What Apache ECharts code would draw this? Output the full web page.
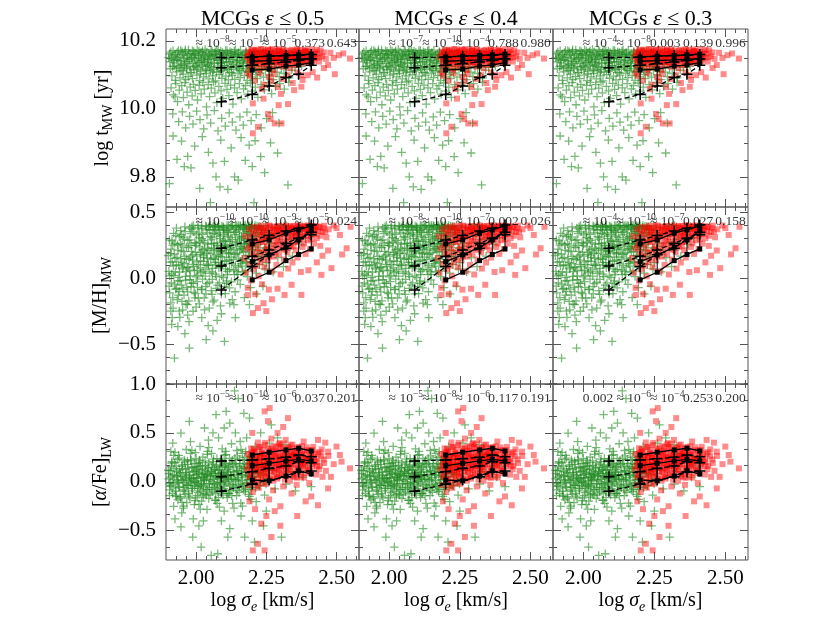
<!DOCTYPE html>
<html lang="en">
<head>
<meta charset="UTF-8">
<title>MCGs: age, metallicity and alpha/Fe vs sigma</title>
<script src="https://cdn.jsdelivr.net/npm/echarts@6/dist/echarts.min.js"></script>
<style>
html, body { margin: 0; padding: 0; background: #fff; }
#main { width: 830px; height: 623px; }
</style>
</head>
<body>
<div id="main"></div>
<script>
// column titles: ellipticity cut
var epsCuts = ['0.5', '0.4', '0.3'];

// x axis (log sigma_e)
var xMin = 53 / 28, xMax = 2.58;
var xMajor = [2.00, 2.25, 2.50];

// y axes per row
var ageRange = [9.711, 10.235], ageMajor = [9.8, 10.0, 10.2], ageMinorStep = 0.05;
var mhRange = [-0.803, 0.54], mhMajor = [-0.5, 0.0, 0.5], mhMinorStep = 0.1;
var afeRange = [-0.8, 1.0], afeMajor = [-0.5, 0.0, 0.5, 1.0], afeMinorStep = 1 / 6;

// x positions where the p-value texts start
var annotX = [1.996, 2.115, 2.233, 2.349, 2.463];

// p-values ('e-8' means about 10^-8), one list per column
var agePvals = [['e-8', 'e-10', 'e-5', '0.373', '0.643'], ['e-7', 'e-10', 'e-4', '0.788', '0.980'], ['e-4', 'e-8', '0.003', '0.139', '0.996']];
var mhPvals = [['e-10', 'e-10', 'e-9', 'e-5', '0.024'], ['e-8', 'e-10', 'e-7', '0.002', '0.026'], ['e-4', 'e-10', 'e-7', '0.027', '0.158']];
var afePvals = [['e-5', 'e-10', 'e-6', '0.037', '0.201'], ['e-5', 'e-8', 'e-6', '0.117', '0.191'], ['0.002', 'e-6', 'e-4', '0.253', '0.200']];

// binned percentiles (16th, 50th, 84th): control sample (dashed) and MCGs (solid)
var binGreen = [2.09, 2.20, 2.26, 2.32, 2.365, 2.41];
var binRed = [2.20, 2.26, 2.32, 2.365, 2.41];

var ageGreenLo = [10.021, 10.042, 10.067, 10.092, 10.102, 10.128];
var ageGreenMid = [10.121, 10.128, 10.133, 10.138, 10.143, 10.147];
var ageGreenHi = [10.151, 10.152, 10.155, 10.157, 10.158, 10.160];
var ageRedLo = [10.114, 10.117, 10.126, 10.129, 10.136];
var ageRedMid = [10.140, 10.142, 10.144, 10.146, 10.148];
var ageRedHi = [10.153, 10.155, 10.157, 10.159, 10.161];

var mhGreenLo = [-0.089, 0.088, 0.177, 0.227, 0.300, 0.330];
var mhGreenMid = [0.093, 0.164, 0.214, 0.265, 0.303, 0.348];
var mhGreenHi = [0.227, 0.290, 0.323, 0.358, 0.379, 0.404];
var mhRedLo = [-0.013, 0.045, 0.133, 0.180, 0.222];
var mhRedMid = [0.126, 0.177, 0.235, 0.290, 0.360];
var mhRedHi = [0.260, 0.290, 0.341, 0.366, 0.396];

var afeGreenLo = [-0.096, -0.024, 0.017, 0.050, 0.100, 0.110];
var afeGreenMid = [0.052, 0.103, 0.137, 0.161, 0.205, 0.195];
var afeGreenHi = [0.213, 0.223, 0.236, 0.250, 0.274, 0.257];
var afeRedLo = [0.017, 0.010, 0.058, 0.113, 0.079];
var afeRedMid = [0.165, 0.189, 0.213, 0.230, 0.213];
var afeRedHi = [0.274, 0.302, 0.326, 0.343, 0.315];

// individual galaxies: control sample (green) and MCGs (red)
var ageGreen = [
[1.905,10.162],[1.912,10.148],[1.918,10.171],[1.921,10.135],[1.927,10.158],[1.933,10.166],[1.936,10.142],[1.941,10.153],[1.945,10.172],[1.948,10.131],
[1.952,10.161],[1.957,10.147],[1.961,10.168],[1.964,10.138],[1.969,10.156],[1.973,10.173],[1.976,10.144],[1.981,10.163],[1.985,10.151],[1.988,10.133],
[1.992,10.169],[1.996,10.157],[2.001,10.141],[2.004,10.174],[2.008,10.152],[2.012,10.136],[2.015,10.165],[2.019,10.148],[2.023,10.171],[2.026,10.159],
[2.031,10.139],[2.034,10.155],[2.038,10.167],[2.042,10.145],[2.045,10.132],[2.049,10.162],[2.053,10.173],[2.056,10.149],[2.061,10.157],[2.064,10.137],
[2.068,10.168],[2.071,10.153],[2.075,10.143],[2.079,10.171],[2.083,10.160],[2.086,10.134],[2.090,10.151],[2.094,10.166],[2.097,10.146],[2.101,10.158],
[2.105,10.172],[2.109,10.139],[2.112,10.163],[2.116,10.150],[2.121,10.168],[2.124,10.135],[2.128,10.156],[2.132,10.145],[2.136,10.170],[2.139,10.161],
[2.143,10.138],[2.147,10.152],[2.151,10.166],[2.155,10.143],[2.158,10.173],[2.162,10.157],[2.166,10.134],[2.171,10.162],[2.174,10.149],[2.178,10.169],
[2.183,10.141],[2.187,10.158],[2.191,10.172],[2.195,10.147],[2.200,10.163],[2.205,10.137],[2.209,10.155],[2.214,10.168],[2.219,10.144],[2.224,10.159],
[2.229,10.171],[2.235,10.151],[2.241,10.139],[2.246,10.165],[2.252,10.156],[2.258,10.146],[2.265,10.170],[2.271,10.160],[2.278,10.142],[2.285,10.167],
[2.292,10.153],[2.299,10.163],[2.307,10.148],[2.316,10.170],[2.325,10.158],[2.334,10.145],[2.345,10.166],[2.357,10.155],[2.371,10.162],[2.385,10.150],
[1.915,10.155],[1.930,10.145],[1.950,10.168],[1.967,10.150],[1.990,10.160],[2.010,10.170],[2.028,10.145],[2.047,10.155],[2.066,10.160],[2.088,10.170],
[2.108,10.148],[2.127,10.166],[2.145,10.160],[2.168,10.150],[2.190,10.160],[2.212,10.152],
[1.902,10.151],[1.907,10.138],[1.910,10.167],[1.916,10.124],[1.919,10.143],[1.924,10.160],[1.929,10.119],[1.934,10.151],[1.937,10.172],[1.943,10.127],
[1.946,10.141],[1.953,10.112],[1.956,10.158],[1.959,10.133],[1.962,10.174],[1.967,10.121],[1.971,10.139],[1.975,10.162],[1.979,10.106],[1.983,10.146],
[1.987,10.171],[1.991,10.124],[1.994,10.149],[1.998,10.163],[2.002,10.117],[2.006,10.135],[2.010,10.158],[2.014,10.103],[2.018,10.142],[2.021,10.166],
[2.025,10.129],[2.029,10.151],[2.032,10.175],[2.036,10.113],[2.040,10.137],[2.044,10.161],[2.048,10.124],[2.052,10.147],[2.057,10.169],[2.060,10.108],
[2.065,10.133],[2.070,10.158],[2.073,10.174],[2.078,10.121],[2.081,10.143],[2.085,10.163],[2.089,10.111],[2.093,10.136],[2.098,10.158],[2.102,10.127],
[2.107,10.149],[2.110,10.172],[2.114,10.116],[2.118,10.139],[2.122,10.162],[2.126,10.106],[2.131,10.131],[2.135,10.155],[2.140,10.174],[2.144,10.122],
[2.148,10.142],[2.152,10.161],[2.156,10.113],[2.160,10.136],[2.164,10.158],[2.169,10.128],[2.173,10.151],[2.177,10.166],[2.181,10.109],[2.185,10.138],
[2.189,10.153],[2.194,10.121],[2.198,10.143],[2.203,10.168],[2.207,10.132],[2.212,10.116],[2.217,10.161],[2.222,10.137],[2.227,10.152],[2.233,10.118],
[2.238,10.164],[2.244,10.131],[2.250,10.149],[2.256,10.125],[2.263,10.158],[2.270,10.111],[2.277,10.146],[2.286,10.131],[2.295,10.157],[2.305,10.136],
[1.908,10.118],[1.914,10.097],[1.922,10.126],[1.926,10.084],[1.931,10.109],[1.939,10.122],[1.943,10.091],[1.947,10.113],[1.954,10.102],[1.958,10.127],
[1.963,10.086],[1.966,10.118],[1.972,10.095],[1.978,10.124],[1.983,10.107],[1.987,10.089],[1.993,10.115],[1.998,10.128],[2.003,10.099],[2.007,10.121],
[2.013,10.083],[2.017,10.111],[2.022,10.125],[2.027,10.094],[2.033,10.117],[2.036,10.104],[2.041,10.128],[2.046,10.088],[2.051,10.112],[2.055,10.122],
[2.059,10.097],[2.063,10.116],[2.069,10.082],[2.073,10.108],[2.077,10.126],[2.082,10.101],[2.087,10.119],[2.092,10.090],[2.096,10.113],[2.100,10.127],
[2.106,10.096],[2.111,10.120],[2.115,10.085],[2.119,10.107],[2.125,10.124],[2.129,10.099],[2.134,10.116],[2.138,10.087],[2.144,10.128],[2.149,10.105],
[2.153,10.119],[2.157,10.092],[2.163,10.112],[2.167,10.126],[2.172,10.098],[2.177,10.118],[2.182,10.084],[2.186,10.109],[2.192,10.123],[2.197,10.094],
[2.203,10.115],[2.208,10.127],[2.213,10.101],[2.218,10.089],[2.223,10.118],[2.228,10.106],[2.234,10.125],[2.240,10.093],[2.247,10.113],[2.253,10.121],
[2.260,10.099],[2.267,10.117],[2.274,10.086],[2.281,10.124],[2.289,10.108],[2.296,10.095],[2.304,10.119],[2.313,10.104],[2.322,10.127],[2.331,10.091],
[2.341,10.114],[2.352,10.122],[2.364,10.102],[2.376,10.126],
[1.911,10.062],[1.919,10.041],[1.928,10.074],[1.934,10.021],[1.940,10.055],[1.949,10.068],[1.955,10.033],[1.960,10.077],[1.968,10.049],[1.974,10.012],
[1.979,10.064],[1.986,10.038],[1.991,10.072],[1.997,10.054],[2.005,10.026],[2.011,10.069],[2.018,10.044],[2.024,10.078],[2.029,10.058],[2.037,10.006],
[2.043,10.071],[2.048,10.036],[2.054,10.061],[2.062,10.079],[2.067,10.047],[2.074,10.018],[2.081,10.066],[2.089,10.053],[2.095,10.031],[2.103,10.075],
[2.110,10.057],[2.117,10.039],[2.123,10.070],[2.131,10.014],[2.137,10.062],[2.146,10.048],[2.154,10.074],[2.161,10.029],[2.169,10.059],[2.176,10.068],
[2.184,10.043],[2.193,10.076],[2.201,10.052],[2.211,10.064],[2.220,10.034],[2.231,10.071],[2.243,10.056],[2.256,10.077],[2.269,10.045],[2.283,10.066],
[2.298,10.074],[2.314,10.058],[2.330,10.078],[1.925,10.035],
[1.917,9.985],[1.938,9.962],[1.951,9.991],[1.963,9.944],[1.977,9.978],[1.989,9.955],[2.002,9.993],[2.014,9.968],[2.027,9.941],[2.039,9.982],
[2.052,9.958],[2.065,9.995],[2.078,9.935],[2.091,9.972],[2.104,9.949],[2.118,9.988],[2.129,9.961],[2.142,9.937],[2.156,9.976],[2.168,9.952],
[2.181,9.990],[2.196,9.965],[2.214,9.983],[2.232,9.944],[2.251,9.971],[2.272,9.989],[2.295,9.958],
[1.905,9.780],[1.932,9.851],[1.970,9.860],[1.982,9.826],[2.013,9.766],[2.051,9.724],[2.071,9.800],[2.113,9.763],[2.137,9.800],[2.206,9.724],
[2.244,9.812],[2.327,9.776],[2.230,9.859],[1.948,9.905],[1.995,9.890],[2.022,9.918],[2.044,9.872],[2.088,9.908],[2.101,9.845],[2.125,9.885],
[2.160,9.915],[2.175,9.848],[2.189,9.893],[2.210,9.906],[2.265,9.900],[2.290,9.870],[1.958,9.830],[2.060,9.840],[2.150,9.790],[2.200,9.830],
[1.918,9.920],[2.085,9.770]
];
var ageRed = [
[2.181,10.152],[2.185,10.168],[2.189,10.137],[2.193,10.159],[2.197,10.174],[2.200,10.145],[2.204,10.163],[2.207,10.127],[2.211,10.155],[2.214,10.171],
[2.218,10.141],[2.221,10.160],[2.225,10.118],[2.228,10.149],[2.231,10.176],[2.235,10.134],[2.238,10.165],[2.242,10.153],[2.245,10.122],[2.248,10.170],
[2.252,10.144],[2.255,10.158],[2.258,10.131],[2.262,10.173],[2.265,10.151],[2.268,10.139],[2.272,10.163],[2.275,10.115],[2.278,10.156],[2.282,10.172],
[2.285,10.146],[2.288,10.129],[2.292,10.161],[2.295,10.175],[2.298,10.138],[2.302,10.154],[2.305,10.168],[2.308,10.124],[2.312,10.148],[2.315,10.162],
[2.318,10.135],[2.322,10.171],[2.325,10.157],[2.328,10.143],[2.332,10.166],[2.335,10.119],[2.338,10.152],[2.342,10.174],[2.345,10.139],[2.348,10.160],
[2.352,10.147],[2.355,10.169],[2.358,10.128],[2.362,10.155],[2.365,10.164],[2.368,10.141],[2.372,10.173],[2.375,10.150],[2.378,10.133],[2.382,10.167],
[2.385,10.158],[2.389,10.144],[2.392,10.171],[2.396,10.153],[2.400,10.136],[2.403,10.165],[2.407,10.148],[2.411,10.176],[2.415,10.157],[2.419,10.142],
[2.424,10.168],[2.428,10.151],[2.433,10.163],[2.438,10.139],[2.443,10.172],[2.449,10.155],[2.455,10.166],[2.462,10.147],
[2.190,10.122],[2.216,10.166],[2.240,10.175],[2.260,10.160],[2.280,10.140],[2.300,10.170],[2.320,10.155],[2.340,10.160],[2.360,10.175],[2.380,10.140],
[2.400,10.160],[2.420,10.150],[2.250,10.165],[2.270,10.176],[2.290,10.150],[2.310,10.165],[2.330,10.130],[2.350,10.150],[2.370,10.160],[2.390,10.170],
[2.186,10.157],[2.191,10.143],[2.195,10.166],[2.199,10.131],[2.203,10.172],[2.208,10.150],[2.212,10.138],[2.217,10.174],[2.222,10.151],[2.226,10.133],
[2.230,10.162],[2.236,10.145],[2.241,10.167],[2.246,10.137],[2.251,10.156],[2.256,10.174],[2.261,10.142],[2.266,10.162],[2.270,10.127],[2.274,10.153],
[2.279,10.168],[2.284,10.139],[2.289,10.157],[2.293,10.172],[2.297,10.147],[2.303,10.134],[2.307,10.160],[2.311,10.175],[2.316,10.143],[2.321,10.161],
[2.326,10.137],[2.331,10.153],[2.336,10.171],[2.341,10.146],[2.346,10.163],[2.351,10.132],[2.356,10.156],[2.361,10.172],[2.366,10.149],[2.371,10.138],
[2.376,10.165],[2.381,10.152],[2.387,10.174],[2.393,10.141],[2.399,10.168],[2.405,10.156],[2.413,10.139],[2.421,10.161],[2.430,10.174],[2.440,10.152],
[2.192,10.097],[2.209,10.083],[2.226,10.105],[2.243,10.071],[2.259,10.094],[2.276,10.102],[2.291,10.064],[2.309,10.088],[2.326,10.099],[2.344,10.076],
[2.361,10.107],[2.379,10.085],[2.397,10.099],[2.415,10.108],[2.431,10.092],[2.234,10.058],[2.302,10.044],[2.268,10.081],
[2.202,9.928],[2.220,9.947],[2.280,9.957],[2.304,9.957],[2.202,10.016],[2.294,10.011],[2.327,10.014],[2.349,10.055],[2.375,10.065],[2.375,10.099],
[2.494,10.102],[2.470,10.129],[2.508,10.158],[2.548,10.148],[2.524,10.163],[2.185,10.105],[2.478,10.165],[2.490,10.150],[2.455,10.120],[2.256,9.985],
[2.240,10.030],[2.265,9.970]
];

var mhGreen = [
[1.903,0.052],[1.906,-0.112],[1.909,0.187],[1.912,-0.035],[1.915,0.124],[1.918,-0.228],[1.921,0.021],[1.924,0.265],[1.927,-0.084],[1.930,0.098],
[1.933,-0.163],[1.936,0.213],[1.939,0.006],[1.942,-0.298],[1.945,0.147],[1.948,-0.052],[1.951,0.071],[1.954,0.312],[1.957,-0.128],[1.960,0.165],
[1.963,-0.015],[1.966,0.238],[1.969,-0.201],[1.905,0.290],[1.920,0.340],[1.945,0.360],[1.913,-0.350],[1.952,-0.240],[1.965,0.050],[1.925,0.150],
[1.940,-0.100],[1.958,0.110],[1.911,0.220],[1.935,-0.020],[1.967,-0.070],
[1.972,0.083],[1.974,-0.172],[1.977,0.291],[1.979,0.018],[1.982,-0.064],[1.984,0.204],[1.987,0.137],[1.989,-0.251],[1.992,0.352],[1.994,0.055],
[1.997,-0.118],[1.999,0.247],[2.002,0.168],[2.004,-0.026],[2.007,0.381],[2.009,0.102],[2.012,-0.195],[2.014,0.276],[2.017,0.041],[2.019,-0.087],
[2.022,0.215],[2.024,0.332],[2.027,0.127],[2.029,-0.149],[2.032,0.063],[2.034,0.398],[2.037,0.188],[2.039,-0.041],[2.042,0.259],[2.044,0.096],
[2.047,-0.228],[2.049,0.366],[2.000,0.010],[2.010,0.310],[2.020,-0.300],[2.030,0.220],[2.040,0.150],[2.045,0.390],[1.985,0.390],[1.975,-0.330],
[2.015,0.180],[2.025,0.050],[2.035,-0.120],[1.995,0.270],[2.005,-0.070],[1.980,0.160],[1.990,-0.040],[2.043,-0.360],
[2.052,0.143],[2.054,-0.095],[2.057,0.312],[2.059,0.074],[2.062,0.227],[2.064,-0.167],[2.067,0.387],[2.069,0.031],[2.072,0.179],[2.074,0.268],
[2.077,-0.052],[2.079,0.118],[2.082,0.343],[2.084,0.206],[2.087,-0.211],[2.089,0.087],[2.092,0.396],[2.094,0.157],[2.097,0.004],[2.099,0.289],
[2.102,0.234],[2.104,-0.118],[2.107,0.362],[2.109,0.131],[2.112,0.052],[2.114,0.318],[2.117,0.192],[2.119,-0.073],[2.122,0.253],[2.124,0.389],
[2.127,0.108],[2.129,-0.162],[2.060,0.370],[2.070,0.100],[2.080,0.400],[2.090,-0.270],[2.100,0.360],[2.110,0.240],[2.120,0.380],[2.055,0.260],
[2.065,0.340],[2.075,-0.320],[2.085,0.300],[2.095,0.210],[2.105,0.070],[2.115,0.400],[2.125,0.160],[2.058,-0.010],[2.068,0.120],[2.078,0.390],
[2.088,0.250],[2.098,0.330],[2.108,-0.040],[2.118,0.280],
[2.132,0.221],[2.134,0.062],[2.137,0.347],[2.139,-0.103],[2.142,0.183],[2.144,0.398],[2.147,0.276],[2.149,0.029],[2.152,0.152],[2.154,0.367],
[2.157,-0.047],[2.159,0.242],[2.162,0.318],[2.164,0.091],[2.167,0.389],[2.169,0.198],[2.172,-0.148],[2.174,0.287],[2.177,0.124],[2.179,0.355],
[2.182,0.012],[2.184,0.236],[2.187,0.392],[2.189,0.169],[2.192,0.303],[2.194,-0.071],[2.197,0.214],[2.140,0.330],[2.150,0.400],[2.160,0.110],
[2.170,0.370],[2.180,0.260],[2.190,0.390],[2.135,-0.200],[2.145,0.050],[2.155,0.290],[2.165,0.220],[2.175,0.400],[2.185,0.340],[2.195,0.380],
[2.190,-0.200],
[2.202,0.256],[2.205,0.372],[2.208,0.143],[2.211,0.318],[2.214,0.039],[2.217,0.394],[2.220,0.207],[2.223,0.341],[2.226,0.102],[2.229,0.284],
[2.232,0.376],[2.235,0.168],[2.238,-0.061],[2.241,0.329],[2.244,0.231],[2.247,0.398],[2.250,0.117],[2.254,0.302],[2.258,0.362],[2.262,0.189],
[2.266,0.265],[2.270,0.385],[2.274,0.047],[2.278,0.338],[2.210,0.400],[2.230,0.390],[2.250,0.360],[2.215,-0.120],[2.245,0.070],
[2.283,0.241],[2.287,0.372],[2.291,0.156],[2.296,0.318],[2.301,0.391],[2.306,0.274],[2.311,0.087],[2.317,0.349],[2.323,0.212],[2.329,0.386],
[2.336,0.295],[2.343,0.167],[2.351,0.363],[2.359,0.332],[2.368,0.258],[2.378,0.391],[2.389,0.305],[2.402,0.368],[2.415,0.340],[2.300,0.400],
[2.320,0.400],
[1.904,-0.061],[1.908,0.121],[1.913,0.032],[1.917,-0.147],[1.922,0.183],[1.926,0.047],[1.931,-0.078],[1.934,0.254],[1.938,0.101],[1.943,-0.021],
[1.947,0.207],[1.950,-0.176],[1.954,0.084],[1.958,0.296],[1.962,0.013],[1.966,0.148],[1.970,-0.104],[1.973,0.232],[1.977,0.061],[1.981,0.338],
[1.984,-0.038],[1.988,0.176],[1.992,0.089],[1.996,-0.149],[2.000,0.263],[2.003,0.124],[2.006,0.022],[2.011,0.341],[2.015,0.078],[2.018,0.197],
[2.021,-0.083],[2.025,0.286],[2.028,0.157],[2.033,0.016],[2.036,0.367],[2.040,0.228],[2.043,0.106],[2.047,-0.031],[2.050,0.314],[2.053,0.189],
[2.056,0.047],[2.061,0.392],[2.064,0.264],[2.068,0.142],[2.071,-0.078],[2.074,0.331],[2.078,0.213],[2.081,0.079],[2.085,0.372],[2.088,0.165],
[2.091,0.018],[2.095,0.281],[2.098,0.383],[2.102,0.127],[2.105,0.246],[2.109,-0.021],[2.112,0.351],[2.116,0.184],[2.119,0.067],[2.123,0.307],
[2.126,0.233],[2.130,0.398],[2.133,0.141],[2.137,0.027],[2.140,0.268],[2.144,0.352],[2.147,0.192],[2.151,0.083],[2.154,0.311],[2.158,0.394],
[2.161,0.227],[2.165,0.143],[2.168,0.341],[2.172,0.264],[2.175,0.053],[2.179,0.382],[2.182,0.297],[2.186,0.172],[2.190,0.354],[2.193,0.247],
[2.197,0.397],[2.200,0.124],[2.204,0.318],[2.208,0.386],[2.212,0.236],[2.216,0.348],[2.220,0.163],[2.224,0.392],[2.228,0.276],[2.233,0.332],
[1.930,0.380],[1.960,0.390],[1.990,0.400],[2.020,0.395],[2.050,0.400],[2.080,0.390],[2.110,0.400],[2.140,0.390],[2.170,0.400],[2.200,0.395],
[1.915,-0.300],[1.940,-0.250],[1.970,-0.280],[2.000,-0.220],[2.030,-0.240],[2.060,-0.180],[2.090,-0.120],[2.120,-0.190],[1.950,0.250],[2.020,0.300],
[1.901,0.171],[1.906,0.018],[1.910,-0.187],[1.914,0.284],[1.919,0.092],[1.923,-0.046],[1.928,0.323],[1.932,0.157],[1.937,-0.129],[1.941,0.046],
[1.944,0.262],[1.949,0.119],[1.953,-0.083],[1.956,0.201],[1.961,0.354],[1.964,-0.196],[1.968,0.078],[1.971,0.287],[1.975,0.143],[1.978,-0.012],
[1.982,0.249],[1.986,0.372],[1.989,0.104],[1.993,-0.107],[1.997,0.196],[2.001,0.329],[2.004,0.061],[2.008,-0.152],[2.012,0.237],[2.016,0.131],
[2.019,0.376],[2.023,-0.008],[2.026,0.174],[2.031,0.268],[2.034,-0.064],[2.038,0.098],[2.041,0.343],[2.046,0.209],[2.049,0.037],[2.054,0.297],
[2.057,-0.123],[2.061,0.153],[2.065,0.221],[2.068,0.361],[2.072,0.012],[2.076,0.246],[2.079,0.168],[2.083,-0.036],[2.086,0.319],[2.090,0.203],
[2.094,0.107],[2.097,0.371],[2.101,-0.064],[2.104,0.279],[2.108,0.192],[2.111,0.027],[2.115,0.346],[2.118,0.138],[2.122,0.221],[2.126,-0.028],
[2.129,0.293],[2.133,0.368],[2.137,0.182],[2.140,0.097],[2.144,0.253],[2.148,-0.013],[2.151,0.383],[2.155,0.212],[2.158,0.128],[2.162,0.302],
[2.166,0.046],[2.169,0.259],[2.173,0.377],[2.177,0.201],[2.181,0.118],[2.185,0.326],[2.189,0.262],[2.193,0.081],[2.197,0.341],[2.201,0.218],
[2.206,0.296],[2.211,0.106],[2.216,0.374],[2.221,0.254],[2.227,0.188],[2.233,0.367],[2.240,0.299],[2.248,0.224],[2.256,0.347],[2.265,0.312],
[1.917,0.250],[1.947,0.330],[1.977,0.380],[2.007,0.400],[2.037,0.390],[2.067,0.400],[2.097,0.390],[2.127,0.400],[2.157,0.400],[2.187,0.400],
[1.923,-0.606],[1.940,0.315],[1.976,-0.530],[2.036,-0.467],[2.101,-0.480],[1.935,-0.367],[1.960,-0.420],[2.060,-0.400],[2.140,-0.300],[1.910,-0.250]
];
var mhRed = [
[2.172,0.152],[2.175,0.318],[2.178,0.042],[2.181,0.226],[2.184,-0.073],[2.187,0.371],[2.190,0.108],[2.193,0.264],[2.196,-0.018],[2.199,0.189],
[2.202,0.343],[2.205,0.067],[2.208,0.295],[2.211,-0.121],[2.214,0.158],[2.217,0.389],[2.220,0.227],[2.223,0.014],[2.226,0.331],[2.229,0.124],
[2.232,0.276],[2.235,-0.046],[2.238,0.362],[2.241,0.193],[2.244,0.082],[2.247,0.308],[2.250,0.397],[2.253,0.241],[2.256,0.137],[2.259,-0.087],
[2.262,0.354],[2.265,0.207],[2.268,0.289],[2.271,0.052],[2.274,0.378],[2.277,0.164],[2.280,0.323],[2.283,0.249],[2.286,0.101],[2.289,0.392],
[2.292,0.281],[2.295,0.183],[2.298,0.357],[2.301,0.028],[2.304,0.312],[2.307,0.226],[2.310,0.394],[2.313,0.141],[2.316,0.339],[2.319,0.262],
[2.322,0.371],[2.325,0.196],[2.328,0.073],[2.331,0.301],[2.334,0.385],[2.337,0.238],[2.340,0.348],[2.343,0.119],[2.346,0.396],[2.349,0.274],
[2.352,0.327],[2.355,0.211],[2.358,0.364],[2.361,0.157],[2.364,0.389],[2.367,0.292],[2.370,0.343],[2.373,0.047],[2.376,0.372],[2.379,0.236],
[2.382,0.318],[2.386,0.398],[2.390,0.184],[2.394,0.351],[2.398,0.287],[2.402,0.379],[2.406,0.221],[2.410,0.334],[2.415,0.395],[2.420,0.262],
[2.425,0.366],[2.430,0.304],[2.436,0.387],[2.442,0.245],[2.449,0.351],[2.456,0.398],[2.464,0.310],[2.472,0.371],
[2.230,0.380],[2.260,0.400],[2.280,0.390],[2.300,0.370],[2.320,0.400],[2.340,0.380],[2.360,0.400],[2.380,0.390],[2.400,0.400],[2.420,0.380],
[2.240,0.350],[2.270,0.330],[2.290,0.360],[2.330,0.350],[2.350,0.320],[2.370,0.300],[2.390,0.370],[2.410,0.360],[2.440,0.390],[2.250,0.300],
[2.193,0.312],[2.197,0.234],[2.201,0.387],[2.206,0.181],[2.209,0.343],[2.213,0.262],[2.216,0.094],[2.219,0.371],[2.224,0.289],[2.227,0.196],
[2.231,0.398],[2.234,0.327],[2.237,0.143],[2.242,0.276],[2.245,0.383],[2.249,0.219],[2.252,0.351],[2.257,0.296],[2.261,0.167],[2.264,0.392],
[2.267,0.318],[2.272,0.243],[2.276,0.367],[2.279,0.198],[2.284,0.345],[2.288,0.284],[2.291,0.396],[2.296,0.236],[2.299,0.331],[2.303,0.376],
[2.308,0.272],[2.312,0.353],[2.317,0.214],[2.320,0.389],[2.324,0.306],[2.329,0.362],[2.333,0.257],[2.338,0.394],[2.342,0.318],[2.347,0.243],
[2.351,0.377],[2.356,0.336],[2.360,0.281],[2.365,0.399],[2.369,0.358],[2.374,0.311],[2.379,0.386],[2.384,0.264],[2.388,0.347],[2.393,0.393],
[2.399,0.324],[2.404,0.362],[2.410,0.297],[2.416,0.381],[2.422,0.337],[2.428,0.395],[2.435,0.356],[2.443,0.322],[2.452,0.379],[2.460,0.352],
[2.512,0.328],[2.536,0.227],[2.520,0.180],[2.446,0.025],[2.482,0.076],[2.375,-0.127],[2.315,-0.127],[2.220,-0.227],[2.202,-0.265],[2.185,-0.127],
[2.240,-0.190],[2.270,-0.160],[2.500,0.380],[2.490,0.400],[2.470,0.210],[2.430,0.120],[2.450,0.170],[2.550,0.390],[2.340,-0.050],[2.400,0.060],
[2.290,-0.080],[2.250,-0.250]
];

var afeGreen = [
[1.902,0.031],[1.905,-0.142],[1.908,0.114],[1.911,-0.038],[1.914,0.207],[1.917,0.395],[1.920,-0.251],[1.923,0.068],[1.926,-0.097],[1.929,0.163],
[1.932,0.012],[1.935,-0.186],[1.938,0.271],[1.941,-0.054],[1.944,0.088],[1.946,0.497],[1.949,-0.317],[1.952,0.135],[1.955,-0.011],[1.958,0.224],
[1.961,-0.128],[1.964,0.047],[1.967,-0.214],[1.970,0.178],[1.946,-0.462],[1.910,0.310],[1.925,-0.380],[1.950,0.020],[1.960,-0.060],[1.915,0.070],
[1.930,-0.150],[1.940,0.120],[1.965,0.330],[1.955,-0.270],[1.905,-0.020],[1.935,0.050],
[1.972,-0.036],[1.975,0.097],[1.976,0.617],[1.978,-0.165],[1.981,0.214],[1.983,0.018],[1.986,-0.092],[1.988,-0.565],[1.989,0.152],[1.992,0.067],
[1.994,-0.233],[1.997,0.298],[1.999,-0.011],[2.002,0.121],[2.004,-0.142],[2.007,0.043],[2.009,0.187],[2.012,-0.068],[2.014,0.362],[2.017,0.009],
[2.018,-0.668],[2.019,-0.197],[2.022,0.102],[2.024,0.251],[2.027,-0.034],[2.029,0.076],[2.032,-0.118],[2.034,0.168],[2.037,0.027],[2.039,-0.283],
[2.042,0.134],[2.044,0.425],[2.047,-0.061],[2.049,0.058],[1.980,0.410],[1.990,-0.380],[2.000,0.000],[2.010,0.090],[2.020,-0.020],[2.030,0.040],
[2.040,-0.080],[1.985,0.030],[1.995,0.110],[2.005,-0.050],[2.015,0.160],[2.025,-0.130],[2.035,0.070],[2.045,-0.170],[2.000,0.240],[2.030,0.550],
[2.010,-0.450],[2.040,0.280],[1.975,0.010],[2.026,-0.400],
[2.052,0.016],[2.054,-0.753],[2.055,0.147],[2.057,-0.105],[2.060,0.083],[2.062,0.232],[2.065,-0.024],[2.067,-0.188],[2.070,0.061],[2.071,0.686],
[2.073,0.174],[2.075,-0.072],[2.077,-0.736],[2.078,0.118],[2.081,0.035],[2.083,-0.259],[2.086,0.206],[2.088,-0.009],[2.091,0.092],[2.093,0.337],
[2.096,-0.136],[2.098,0.047],[2.101,0.165],[2.103,-0.044],[2.106,0.278],[2.107,0.720],[2.108,0.071],[2.111,-0.163],[2.113,-0.565],[2.114,0.128],
[2.116,0.021],[2.119,0.238],[2.121,-0.091],[2.124,0.057],[2.126,0.389],[2.129,-0.028],[2.060,0.500],[2.080,0.450],[2.090,-0.400],[2.100,-0.300],
[2.120,0.600],[2.055,0.290],[2.065,0.120],[2.075,0.040],[2.085,-0.060],[2.095,0.150],[2.105,0.010],[2.115,-0.120],[2.125,0.190],[2.070,-0.120],
[2.090,0.090],[2.110,0.060],[2.100,0.550],[2.120,-0.480],
[2.132,0.107],[2.134,-0.058],[2.137,0.930],[2.139,0.186],[2.142,0.023],[2.144,-0.141],[2.147,0.264],[2.149,0.072],[2.152,-0.036],[2.154,0.153],
[2.157,0.412],[2.159,-0.219],[2.162,0.096],[2.164,0.012],[2.167,0.221],[2.169,-0.083],[2.172,0.137],[2.173,-0.565],[2.175,0.048],[2.177,0.309],
[2.180,-0.016],[2.182,0.175],[2.185,0.061],[2.187,-0.129],[2.190,0.651],[2.192,0.243],[2.195,0.025],[2.198,-0.058],[2.201,0.194],[2.204,0.113],
[2.208,-0.617],[2.210,0.357],[2.214,-0.203],[2.218,0.084],[2.140,0.500],[2.160,-0.350],[2.180,0.450],[2.150,0.850],[2.200,-0.400],[2.170,0.700],
[2.165,-0.250],[2.145,0.320],
[2.222,0.152],[2.227,-0.041],[2.233,0.267],[2.238,0.072],[2.244,-0.137],[2.249,0.198],[2.255,0.034],[2.261,0.395],[2.268,0.583],[2.274,0.116],
[2.281,-0.072],[2.288,0.231],[2.296,0.058],[2.304,-0.565],[2.312,0.172],[2.321,-0.023],[2.331,0.286],[2.342,0.104],[2.354,-0.094],[2.367,0.213],
[2.381,0.048],[2.396,0.161],[2.410,-0.050],[2.250,-0.300],[2.290,0.450],[2.230,0.500],[2.240,-0.450],[2.320,0.380],
[1.903,0.084],[1.907,-0.047],[1.911,0.152],[1.916,-0.118],[1.919,0.023],[1.924,0.196],[1.928,-0.064],[1.931,0.107],[1.936,-0.009],[1.940,0.241],
[1.943,-0.153],[1.947,0.058],[1.951,0.172],[1.954,-0.082],[1.958,0.031],[1.962,0.126],[1.965,-0.031],[1.969,0.213],[1.973,-0.119],[1.976,0.062],
[1.980,-0.013],[1.984,0.147],[1.987,-0.071],[1.991,0.036],[1.995,0.189],[1.998,-0.164],[2.001,0.073],[2.005,0.138],[2.008,-0.026],[2.012,0.221],
[2.016,-0.097],[2.019,0.051],[2.023,0.162],[2.026,-0.052],[2.030,0.011],[2.034,0.117],[2.037,-0.136],[2.041,0.083],[2.045,0.196],[2.048,-0.018],
[2.052,0.059],[2.056,-0.083],[2.059,0.181],[2.063,0.024],[2.067,0.128],[2.070,-0.041],[2.074,0.237],[2.078,-0.102],[2.081,0.066],[2.085,0.149],
[2.088,-0.028],[2.092,0.204],[2.096,0.039],[2.099,-0.071],[2.103,0.112],[2.107,0.176],[2.110,-0.013],[2.114,0.072],[2.118,-0.118],[2.121,0.151],
[2.125,0.027],[2.129,0.219],[2.132,-0.056],[2.136,0.093],[2.140,0.008],[2.143,0.163],[2.147,-0.087],[2.151,0.046],[2.155,0.227],[2.158,-0.021],
[2.162,0.131],[2.166,0.067],[2.170,-0.052],[2.173,0.188],[2.177,0.094],[2.181,-0.007],[2.185,0.143],[2.189,0.052],[2.193,0.261],[2.196,-0.081],
[2.200,0.087],[2.205,0.162],[2.209,0.019],[2.214,0.121],[2.219,0.228],[2.224,-0.036],[2.229,0.083],[2.235,0.174],[2.241,0.011],[2.248,0.127],
[1.925,0.300],[1.955,-0.250],[1.985,0.320],[2.015,-0.280],[2.045,0.350],[2.075,-0.220],[2.105,0.310],[2.135,-0.270],[2.165,0.290],[2.195,-0.180],
[1.935,0.000],[1.965,0.090],[1.995,-0.040],[2.025,0.050],[2.055,0.100],[2.085,-0.010],[2.115,0.040],[2.145,0.110],[2.175,-0.100],[2.205,0.050],
[1.901,0.118],[1.906,-0.083],[1.909,0.047],[1.913,0.192],[1.918,-0.021],[1.921,0.134],[1.927,-0.137],[1.930,0.061],[1.934,0.227],[1.938,-0.052],
[1.942,0.096],[1.945,-0.168],[1.949,0.158],[1.953,0.018],[1.957,-0.097],[1.960,0.201],[1.964,0.073],[1.968,-0.038],[1.971,0.139],[1.974,-0.146],
[1.978,0.041],[1.982,0.226],[1.985,-0.064],[1.989,0.106],[1.993,-0.002],[1.996,-0.193],[2.000,0.152],[2.003,0.034],[2.007,-0.111],[2.011,0.087],
[2.014,0.199],[2.018,-0.043],[2.021,0.127],[2.025,-0.158],[2.028,0.022],[2.032,0.214],[2.036,-0.078],[2.039,0.069],[2.043,0.148],[2.046,-0.021],
[2.050,-0.134],[2.054,0.103],[2.058,0.002],[2.061,0.207],[2.065,-0.057],[2.069,0.083],[2.072,0.162],[2.076,-0.016],[2.080,-0.161],[2.083,0.121],
[2.087,0.044],[2.090,0.232],[2.094,-0.089],[2.098,0.076],[2.101,0.004],[2.105,0.189],[2.109,-0.118],[2.112,0.097],[2.116,0.152],[2.120,-0.035],
[2.123,0.063],[2.127,-0.142],[2.131,0.178],[2.134,0.026],[2.138,0.241],[2.142,-0.067],[2.146,0.113],[2.149,0.028],[2.153,-0.107],[2.157,0.184],
[2.161,0.071],[2.164,-0.031],[2.168,0.152],[2.172,0.246],[2.176,-0.073],[2.180,0.104],[2.184,0.022],[2.188,0.191],[2.192,-0.042],[2.197,0.138],
[2.202,0.057],[2.207,0.247],[2.212,-0.061],[2.217,0.172],[2.222,0.093],[2.228,0.016],[2.234,0.218],[2.241,0.131],[2.249,-0.024],[2.257,0.187],
[1.920,0.270],[1.950,-0.210],[1.980,0.290],[2.010,-0.230],[2.040,0.310],[2.070,-0.190],[2.100,0.270],[2.130,-0.220],[2.160,0.330],[2.190,-0.150]
];
var afeRed = [
[2.181,0.126],[2.184,0.283],[2.187,-0.034],[2.190,0.198],[2.193,0.071],[2.196,0.342],[2.199,0.152],[2.202,-0.105],[2.205,0.236],[2.208,0.014],
[2.211,0.301],[2.214,0.117],[2.217,0.189],[2.220,0.402],[2.223,-0.062],[2.226,0.254],[2.229,0.086],[2.232,0.168],[2.235,0.329],[2.238,0.042],
[2.241,0.217],[2.244,0.375],[2.247,0.131],[2.250,-0.021],[2.253,0.272],[2.256,0.193],[2.259,0.058],[2.262,0.316],[2.265,0.144],[2.268,0.441],
[2.271,0.226],[2.274,-0.087],[2.277,0.103],[2.280,0.289],[2.283,0.178],[2.286,0.359],[2.289,0.032],[2.292,0.247],[2.295,0.121],[2.298,0.396],
[2.301,0.205],[2.304,0.067],[2.307,0.308],[2.310,-0.048],[2.313,0.163],[2.316,0.267],[2.319,0.428],[2.322,0.094],[2.325,0.218],[2.328,0.342],
[2.331,0.149],[2.334,0.011],[2.337,0.281],[2.340,0.186],[2.343,0.381],[2.346,0.078],[2.349,0.237],[2.352,0.312],[2.355,0.127],[2.358,-0.031],
[2.361,0.259],[2.364,0.171],[2.367,0.354],[2.370,0.212],[2.373,0.052],[2.376,0.298],[2.379,0.141],[2.383,0.412],[2.387,0.233],[2.391,0.089],
[2.395,0.321],[2.399,0.184],[2.403,-0.013],[2.407,0.265],[2.412,0.156],[2.417,0.357],[2.422,0.209],[2.428,0.074],[2.434,0.286],[2.440,0.163],
[2.447,0.331],[2.454,0.228],[2.462,0.112],[2.471,0.264],
[2.210,0.180],[2.230,0.250],[2.250,0.130],[2.270,0.300],[2.290,0.160],[2.310,0.240],[2.330,0.200],[2.350,0.270],[2.370,0.100],[2.390,0.230],
[2.410,0.290],[2.240,0.100],[2.260,0.220],[2.280,0.050],[2.300,0.350],[2.320,0.130],[2.340,0.260],[2.360,0.040],[2.380,0.190],[2.400,0.120],
[2.220,0.000],[2.200,0.300],[2.430,0.200],[2.450,0.050],
[2.192,0.231],[2.196,0.104],[2.200,0.187],[2.204,0.026],[2.207,0.314],[2.211,0.142],[2.215,0.243],[2.218,0.068],[2.222,0.197],[2.226,0.352],
[2.229,0.121],[2.233,0.284],[2.237,-0.017],[2.240,0.172],[2.244,0.258],[2.248,0.083],[2.252,0.214],[2.256,0.337],[2.259,0.146],[2.263,0.028],
[2.267,0.264],[2.271,0.187],[2.275,0.361],[2.279,0.112],[2.283,0.236],[2.287,0.051],[2.291,0.302],[2.295,0.174],[2.299,0.251],[2.303,0.137],
[2.307,0.383],[2.311,0.208],[2.315,0.084],[2.319,0.293],[2.323,0.166],[2.327,0.242],[2.331,0.347],[2.335,0.113],[2.339,0.226],[2.343,0.307],
[2.347,0.182],[2.351,0.049],[2.355,0.263],[2.359,0.336],[2.363,0.144],[2.367,0.281],[2.372,0.207],[2.377,0.362],[2.382,0.163],[2.387,0.288],
[2.392,0.226],[2.397,0.124],[2.403,0.319],[2.409,0.244],[2.415,0.182],[2.422,0.297],[2.429,0.231],[2.437,0.128],[2.446,0.262],[2.456,0.191],
[2.186,0.163],[2.190,0.048],[2.194,0.278],[2.198,0.213],[2.201,0.097],[2.205,0.331],[2.209,0.178],[2.212,-0.041],[2.216,0.266],[2.220,0.129],
[2.223,0.357],[2.227,0.208],[2.231,0.034],[2.234,0.297],[2.238,0.142],[2.242,0.243],[2.246,0.398],[2.249,0.176],[2.253,0.067],[2.257,0.284],
[2.260,0.219],[2.264,0.113],[2.268,0.341],[2.272,0.262],[2.275,0.011],[2.279,0.193],[2.283,0.317],[2.286,0.137],[2.290,0.258],[2.294,0.382],
[2.297,0.086],[2.301,0.229],[2.305,0.158],[2.309,0.336],[2.312,0.273],[2.316,0.021],[2.320,0.196],[2.324,0.309],[2.328,0.118],[2.332,0.257],
[2.336,0.372],[2.340,0.173],[2.344,0.061],[2.348,0.291],[2.352,0.218],[2.357,0.349],[2.361,0.106],[2.365,0.238],[2.370,0.318],[2.374,0.168],
[2.379,0.271],[2.384,0.043],[2.389,0.204],[2.394,0.352],[2.400,0.249],[2.406,0.107],[2.413,0.326],[2.420,0.254],[2.430,0.157],[2.440,0.303],
[2.262,0.754],[2.244,0.720],[2.256,0.620],[2.327,0.651],[2.310,0.560],[2.290,0.500],[2.434,0.428],[2.470,0.308],[2.512,0.274],[2.518,0.206],
[2.548,0.137],[2.490,0.180],[2.500,0.360],[2.470,-0.068],[2.434,-0.240],[2.410,-0.150],[2.390,-0.200],[2.202,-0.702],[2.244,-0.702],[2.220,-0.634],
[2.268,-0.565],[2.232,-0.428],[2.250,-0.350],[2.280,-0.300],[2.300,-0.250],[2.210,-0.280],[2.260,-0.180],[2.340,-0.120],[2.190,-0.200],[2.360,-0.350],
[2.300,-0.450],[2.200,0.500],[2.460,0.400],[2.480,0.050]
];

// ---------------------------------------------------------------
var SERIF = "'Liberation Serif', 'DejaVu Serif', serif";
var FRAME = '#555';
var GREEN = '#1f8a1f';
var PLUS = 'path://M0,4.25H4.25V0H5.75V4.25H10V5.75H5.75V10H4.25V5.75H0Z';
var PLUS_BOLD = 'path://M0,4.3H4.3V0H5.7V4.3H10V5.7H5.7V10H4.3V5.7H0Z';

var colLeft = [166, 359, 553], colWidth = [193, 194, 195];
var rowTop = [29, 207, 384], rowHeight = [178, 177, 176];

var rows = [
    { range: ageRange, major: ageMajor, step: ageMinorStep, green: ageGreen, red: ageRed, pvals: agePvals,
      gl: [ageGreenLo, ageGreenMid, ageGreenHi], rl: [ageRedLo, ageRedMid, ageRedHi],
      name: '{n|log t}{b|MW}{n| [yr]}' },
    { range: mhRange, major: mhMajor, step: mhMinorStep, green: mhGreen, red: mhRed, pvals: mhPvals,
      gl: [mhGreenLo, mhGreenMid, mhGreenHi], rl: [mhRedLo, mhRedMid, mhRedHi],
      name: '{n|[M/H]}{b|MW}' },
    { range: afeRange, major: afeMajor, step: afeMinorStep, green: afeGreen, red: afeRed, pvals: afePvals,
      gl: [afeGreenLo, afeGreenMid, afeGreenHi], rl: [afeRedLo, afeRedMid, afeRedHi],
      name: '{n|[}{i|α}{n|/Fe]}{b|LW}' }
];

var nameRich = {
    n: { fontFamily: SERIF, fontSize: 20, color: '#000', lineHeight: 26 },
    i: { fontFamily: SERIF, fontSize: 20, fontStyle: 'italic', color: '#000', lineHeight: 26 },
    b: { fontFamily: SERIF, fontSize: 14, color: '#000', lineHeight: 14, verticalAlign: 'bottom' },
    bi: { fontFamily: SERIF, fontSize: 14, fontStyle: 'italic', color: '#000', lineHeight: 14, verticalAlign: 'bottom' }
};
var pRich = {
    t: { fontFamily: SERIF, fontSize: 13.5, color: '#000', lineHeight: 18 },
    s: { fontFamily: SERIF, fontSize: 9.5, color: '#000', lineHeight: 10, verticalAlign: 'top' }
};

function minorTicks(lo, hi, step) {
    var out = [];
    for (var k = Math.ceil(lo / step - 1e-6); k * step <= hi + 1e-9; k++) out.push(+(k * step).toFixed(6));
    return out;
}
function pText(s) {
    if (s.charAt(0) === 'e') return '{t|≈ 10}{s|' + s.slice(1).replace('-', '−') + '}';
    return '{t|' + s + '}';
}
function fmt(v, d) { return v.toFixed(d).replace('-', '−'); }

var xMinor = minorTicks(xMin, xMax, 1 / 28);

var option = {
    animation: false,
    backgroundColor: '#fff',
    grid: [], xAxis: [], yAxis: [], series: [],
    graphic: epsCuts.map(function (e, c) {
        return {
            type: 'text', x: colLeft[c] + colWidth[c] / 2, y: 19,
            style: {
                text: '{a|MCGs }{e|ε}{a| ≤ ' + e + '}', align: 'center', verticalAlign: 'middle',
                rich: {
                    a: { fontFamily: SERIF, fontSize: 22, fill: '#000' },
                    e: { fontFamily: SERIF, fontSize: 22, fontStyle: 'italic', fill: '#000' }
                }
            }
        };
    })
};

rows.forEach(function (row, r) {
    var yMinor = minorTicks(row.range[0], row.range[1], row.step);
    epsCuts.forEach(function (e, c) {
        var gi = option.grid.length;
        option.grid.push({ left: colLeft[c], top: rowTop[r], width: colWidth[c], height: rowHeight[r],
            show: true, borderColor: FRAME, borderWidth: 1, backgroundColor: 'transparent', containLabel: false });
        var xi = option.xAxis.length, yi = option.yAxis.length;
        var showX = r === 2, showY = c === 0;
        var xb = { gridIndex: gi, type: 'value', min: xMin, max: xMax, axisLine: { show: false, onZero: false }, splitLine: { show: false } };
        var yb = { gridIndex: gi, type: 'value', min: row.range[0], max: row.range[1], axisLine: { show: false, onZero: false }, splitLine: { show: false } };
        // order matters: ECharts flips an axis to the free side when its side is taken
        option.xAxis.push(
            Object.assign({}, xb, { position: 'bottom',
                axisTick: { inside: true, length: 8, customValues: xMajor, lineStyle: { color: FRAME } },
                axisLabel: { show: showX, customValues: xMajor, margin: 8, fontFamily: SERIF, fontSize: 21, color: '#000',
                    formatter: function (v) { return v.toFixed(2); } },
                name: showX ? '{n|log }{i|σ}{bi|e}{n| [km/s]}' : '', nameLocation: 'middle', nameGap: 28,
                nameTextStyle: { rich: nameRich } }),
            Object.assign({}, xb, { position: 'top', axisTick: { inside: true, length: 8, customValues: xMajor, lineStyle: { color: FRAME } }, axisLabel: { show: false } }),
            Object.assign({}, xb, { position: 'bottom', axisTick: { inside: true, length: 4, customValues: xMinor, lineStyle: { color: FRAME } }, axisLabel: { show: false } }),
            Object.assign({}, xb, { position: 'top', axisTick: { inside: true, length: 4, customValues: xMinor, lineStyle: { color: FRAME } }, axisLabel: { show: false } })
        );
        option.yAxis.push(
            Object.assign({}, yb, { position: 'left',
                axisTick: { inside: true, length: 8, customValues: row.major, lineStyle: { color: FRAME } },
                axisLabel: { show: showY, customValues: row.major, margin: 10, fontFamily: SERIF, fontSize: 21, color: '#000',
                    formatter: function (v) { return fmt(v, 1); } },
                name: showY ? row.name : '', nameLocation: 'middle', nameRotate: 90, nameGap: 38,
                nameTextStyle: { rich: nameRich } }),
            Object.assign({}, yb, { position: 'right', axisTick: { inside: true, length: 8, customValues: row.major, lineStyle: { color: FRAME } }, axisLabel: { show: false } }),
            Object.assign({}, yb, { position: 'left', axisTick: { inside: true, length: 4, customValues: yMinor, lineStyle: { color: FRAME } }, axisLabel: { show: false } }),
            Object.assign({}, yb, { position: 'right', axisTick: { inside: true, length: 4, customValues: yMinor, lineStyle: { color: FRAME } }, axisLabel: { show: false } })
        );
        var ax = { xAxisIndex: xi, yAxisIndex: yi };

        option.series.push(Object.assign({ type: 'scatter', data: row.green, symbol: PLUS, symbolSize: 8.5, silent: true,
            itemStyle: { color: GREEN, opacity: 0.6 }, z: 2 }, ax));
        option.series.push(Object.assign({ type: 'scatter', data: row.red, symbol: 'rect', symbolSize: 6, silent: true,
            itemStyle: { color: '#ff0000', opacity: 0.45 }, z: 3 }, ax));

        // vertical spread at each MCG bin
        option.series.push(Object.assign({ type: 'custom', silent: true, z: 4,
            data: binRed.map(function (x, i) {
                var lo = Math.min(row.gl[0][i + 1], row.rl[0][i]);
                var hi = Math.max(row.gl[2][i + 1], row.rl[2][i]);
                return [x, lo, hi];
            }),
            renderItem: function (params, api) {
                var p1 = api.coord([api.value(0), api.value(1)]);
                var p2 = api.coord([api.value(0), api.value(2)]);
                return { type: 'line', shape: { x1: p1[0], y1: p1[1], x2: p2[0], y2: p2[1] }, style: { stroke: '#000', lineWidth: 1 } };
            } }, ax));

        row.gl.forEach(function (arr) {
            option.series.push(Object.assign({ type: 'line', silent: true, z: 5,
                data: binGreen.map(function (x, i) { return [x, arr[i]]; }),
                symbol: PLUS_BOLD, symbolSize: 11, showSymbol: true,
                lineStyle: { color: '#000', width: 1.3, type: [5, 3] }, itemStyle: { color: '#000' } }, ax));
        });
        row.rl.forEach(function (arr) {
            option.series.push(Object.assign({ type: 'line', silent: true, z: 5,
                data: binRed.map(function (x, i) { return [x, arr[i]]; }),
                symbol: 'rect', symbolSize: 5, showSymbol: true,
                lineStyle: { color: '#000', width: 1.3 }, itemStyle: { color: '#000' } }, ax));
        });

        // p-value texts along the top of the panel
        var pv = row.pvals[c];
        var yTxt = row.range[1] - 14 * (row.range[1] - row.range[0]) / rowHeight[r];
        option.series.push(Object.assign({ type: 'scatter', silent: true, z: 6, symbolSize: 1,
            itemStyle: { color: 'rgba(0,0,0,0)' },
            data: annotX.map(function (x) { return [x, yTxt]; }),
            label: { show: true, position: 'right', distance: 0, color: '#000', rich: pRich,
                formatter: function (p) { return pText(pv[p.dataIndex]); } } }, ax));
    });
});

var chart = echarts.init(document.getElementById('main'));
chart.setOption(option);
</script>
</body>
</html>
